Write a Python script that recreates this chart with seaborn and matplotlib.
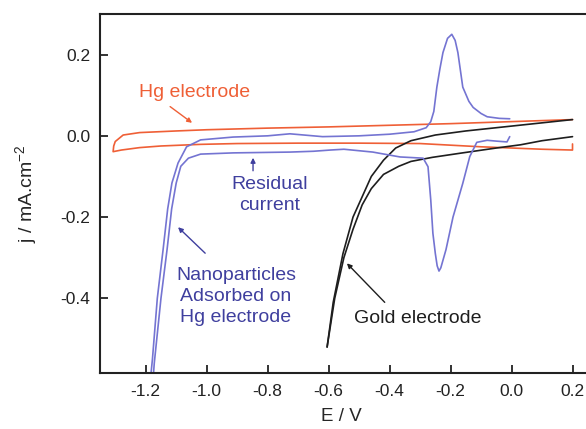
import matplotlib
matplotlib.use("Agg")
import matplotlib.pyplot as plt
import seaborn as sns
import pandas as pd

# ---- data ----
# Hg electrode (orange loop)
E_hg = [0.2, 0.2, 0.1, 0.0, -0.1, -0.2, -0.3, -0.5, -0.7, -0.9, -1.02, -1.15, -1.22, -1.28,
        -1.307, -1.305, -1.30, -1.274, -1.22, -1.1, -1.0, -0.8, -0.6, -0.4, -0.2, 0.0, 0.2]
j_hg = [-0.02, -0.035, -0.033, -0.03, -0.027, -0.023, -0.019, -0.018, -0.018, -0.019, -0.021,
        -0.025, -0.029, -0.035, -0.039, -0.025, -0.014, 0.002, 0.008, 0.012, 0.015, 0.019,
        0.022, 0.026, 0.030, 0.035, 0.040]

# Nanoparticles adsorbed on Hg electrode (blue): cathodic branch (right -> left)
E_np_c = [-0.006, -0.015, -0.05, -0.08, -0.114, -0.137, -0.16, -0.192, -0.215, -0.232, -0.238,
          -0.244, -0.25, -0.258, -0.265, -0.274, -0.29, -0.366, -0.455, -0.55, -0.595, -0.65,
          -0.727, -0.913, -1.02, -1.06, -1.085, -1.10, -1.115, -1.13, -1.15, -1.172, -1.18]
j_np_c = [-0.002, -0.015, -0.013, -0.011, -0.016, -0.051, -0.117, -0.20, -0.28, -0.325, -0.333,
          -0.32, -0.29, -0.24, -0.158, -0.076, -0.055, -0.052, -0.04, -0.033, -0.035, -0.038,
          -0.04, -0.042, -0.045, -0.055, -0.075, -0.116, -0.18, -0.28, -0.40, -0.56, -0.64]
# anodic branch (left -> right)
E_np_a = [-1.19, -1.178, -1.162, -1.143, -1.128, -1.114, -1.094, -1.066, -1.02, -0.913, -0.80,
          -0.727, -0.62, -0.50, -0.40, -0.32, -0.28, -0.265, -0.255, -0.245, -0.235, -0.225,
          -0.21, -0.196, -0.185, -0.176, -0.16, -0.14, -0.126, -0.10, -0.08, -0.04, -0.006]
j_np_a = [-0.64, -0.55, -0.40, -0.28, -0.18, -0.116, -0.067, -0.027, -0.01, -0.003, 0.0,
          0.005, -0.002, 0.0, 0.004, 0.01, 0.02, 0.035, 0.06, 0.12, 0.165, 0.205, 0.24, 0.25,
          0.235, 0.205, 0.12, 0.085, 0.07, 0.055, 0.047, 0.043, 0.042]

# Gold electrode (black): upper branch and lower branch
E_au_up = [-0.605, -0.585, -0.553, -0.52, -0.49, -0.46, -0.42, -0.38, -0.33, -0.25, -0.15, 0.0, 0.2]
j_au_up = [-0.52, -0.41, -0.29, -0.20, -0.15, -0.10, -0.06, -0.03, -0.012, 0.002, 0.012, 0.024, 0.040]
E_au_lo = [0.2, 0.1, 0.03, -0.05, -0.17, -0.26, -0.33, -0.37, -0.42, -0.46, -0.49, -0.52, -0.55, -0.58, -0.605]
j_au_lo = [-0.002, -0.012, -0.022, -0.030, -0.043, -0.053, -0.063, -0.075, -0.095, -0.13, -0.17,
           -0.23, -0.30, -0.40, -0.52]

x_ticks = [-1.2, -1.0, -0.8, -0.6, -0.4, -0.2, 0.0, 0.2]
y_ticks = [-0.4, -0.2, 0.0, 0.2]
x_ticklabels = ["-1.2", "-1.0", "-0.8", "-0.6", "-0.4", "-0.2", "0.0", "0.2"]
y_ticklabels = ["-0.4", "-0.2", "0.0", "0.2"]

# ---- styling ----
sns.set_theme(style="ticks")
plt.rcParams["font.family"] = ["Liberation Sans", "DejaVu Sans"]
plt.rcParams["mathtext.fontset"] = "custom"
plt.rcParams["mathtext.rm"] = "Liberation Sans"

c_hg = "#ef5f36"
c_np = "#7474d2"
c_np_txt = "#3f3f9e"
c_au = "#1e1e1e"

fig = plt.figure(figsize=(5.86, 4.29), dpi=100)
ax = fig.add_axes([100 / 586, 56 / 429, 503 / 586, 359 / 429])

def draw(E, j, color):
    df = pd.DataFrame({"E": E, "j": j})
    sns.lineplot(data=df, x="E", y="j", sort=False, estimator=None, color=color,
                 lw=1.2, ax=ax, legend=False)

draw(E_hg, j_hg, c_hg)
draw(E_au_up, j_au_up, c_au)
draw(E_au_lo, j_au_lo, c_au)
draw(E_np_c + E_np_a, j_np_c + j_np_a, c_np)

ax.set_xlim(-1.35, 0.3)
ax.set_ylim(-0.584, 0.300)
ax.set_xticks(x_ticks)
ax.set_xticklabels(x_ticklabels)
ax.set_yticks(y_ticks)
ax.set_yticklabels(y_ticklabels)
ax.tick_params(direction="in", length=6, width=1.3, labelsize=12.5, pad=7, colors="#222222")
ax.tick_params(axis="x", pad=8)
for s in ax.spines.values():
    s.set_linewidth(1.5)
    s.set_color("#222222")

ax.set_xlabel("E / V", fontsize=13.5)
ax.xaxis.set_label_coords(0.479, -0.098)
ax.set_ylabel("j / mA.cm$^{-2}$", fontsize=14)
ax.yaxis.set_label_coords(-0.12, 0.5)

# ---- annotations ----
fs = 14
arw = dict(arrowstyle="-|>", lw=1.0, mutation_scale=7, shrinkA=0, shrinkB=0)
ax.annotate("", xy=(-1.048, 0.032), xytext=(-1.12, 0.072),
            arrowprops=dict(arw, color=c_hg))
ax.text(-1.041, 0.106, "Hg electrode", fontsize=fs, color=c_hg, ha="center", va="center")
ax.annotate("", xy=(-0.848, -0.054), xytext=(-0.848, -0.086),
            arrowprops=dict(arw, color=c_np_txt))
ax.text(-0.792, -0.146, "Residual\ncurrent", fontsize=fs, color=c_np_txt, ha="center",
        va="center", linespacing=1.3)
ax.annotate("", xy=(-1.094, -0.225), xytext=(-1.005, -0.289),
            arrowprops=dict(arw, color=c_np_txt))
ax.text(-0.904, -0.395, "Nanoparticles\nAdsorbed on\nHg electrode", fontsize=fs,
        color=c_np_txt, ha="center", va="center", linespacing=1.3)
ax.annotate("", xy=(-0.54, -0.314), xytext=(-0.416, -0.41),
            arrowprops=dict(arw, color=c_au))
ax.text(-0.307, -0.449, "Gold electrode", fontsize=fs, color=c_au, ha="center", va="center")

fig.savefig("out.png", dpi=100)
